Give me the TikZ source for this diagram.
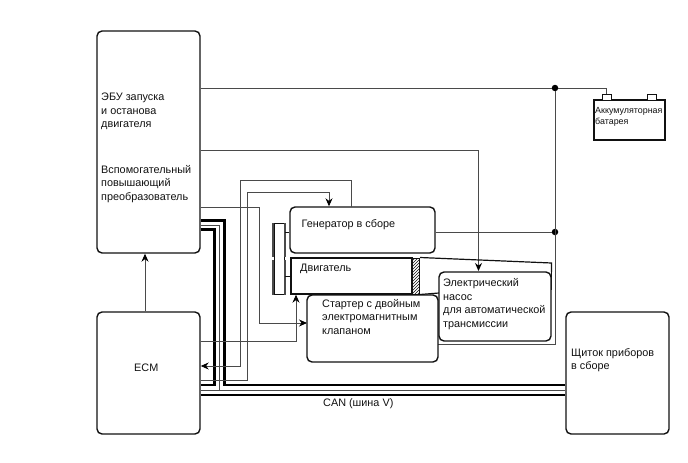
\documentclass[tikz,border=0pt]{standalone}
\usepackage{fontspec}
\setmainfont{Liberation Sans}
\usetikzlibrary{arrows.meta, patterns}
\definecolor{wirecol}{HTML}{4A4A4A}
\definecolor{inkcol}{HTML}{111111}
\tikzset{
    unitbox/.style={draw=inkcol, fill=white, line width=1.4pt, rounded corners=5pt, inner sep=0pt},
    plainbox/.style={draw=inkcol, fill=white, line width=1.4pt, inner sep=0pt},
    caption/.style={anchor=west, align=left, inner sep=0pt, text=inkcol, font=\fontsize{10.85}{13.5}\selectfont},
    wire/.style={draw=wirecol, line width=0.9pt},
    busline/.style={draw=black, line width=2.8pt},
    junction/.style={circle, fill=black, inner sep=0pt, minimum size=6.5pt},
}
\begin{document}
\begin{tikzpicture}[>={Stealth[length=8pt,width=7pt,color=black]}, x=1pt, y=-1pt]
    \useasboundingbox (0, 0) rectangle (688, 463);

    \node[junction] (jtop) at (555, 88) {};
    \node[junction] (jgen) at (555, 232) {};

    \node[plainbox, minimum width=71, minimum height=40] (batt) at (629.5, 120) {};
    \node[plainbox, line width=1pt, minimum width=9, minimum height=6] (plus) at (606.5, 97) {};
    \node[plainbox, line width=1pt, minimum width=9, minimum height=6] (minus) at (652, 97) {};

    \node[unitbox, minimum width=103, minimum height=222] (ebu) at (148.5, 142) {};
    \node[unitbox, minimum width=103, minimum height=122] (ecm) at (148.5, 373) {};
    \node[unitbox, minimum width=103, minimum height=122] (dash) at (617.5, 373) {};

    % CAN bundle
    \draw[busline] (ebu.east |- 0, 220.5) -- (224.5, 220.5) -- (224.5, 385) -- (dash.west |- 0, 385);
    \draw[busline] (ebu.east |- 0, 229.5) -- (214.5, 229.5) -- (214.5, 385) -- (ecm.east |- 0, 385);
    \draw[wire] (ebu.east |- 0, 225) -- (219.5, 225) -- (219.5, 390);
    \draw[wire] (ecm.east |- 0, 390) -- (dash.west |- 0, 390);
    \draw[busline] (ecm.east |- 0, 395) -- (dash.west |- 0, 395);

    % wires that run behind the boxes
    \draw[wire] (ebu.east |- jtop) -- (jtop) -- (jtop -| plus) -- (plus.north);
    \draw[wire] (jtop) -- (555, 344) -- (438, 344);
    \draw[wire, ->] (ecm.north -| 145, 0) -- (ebu.south -| 145, 0);

    \node[unitbox, minimum width=145, minimum height=46] (gen) at (362.5, 230) {};
    \node[plainbox, minimum width=121, minimum height=36] (engine) at (351.5, 276) {};
    \node[plainbox, line width=1pt, pattern=north east lines, pattern color=inkcol, minimum width=7.5, minimum height=36] (hatch) at (415.75, 276) {};

    \draw[wire] (gen.east |- jgen) -- (jgen);
    \draw[wire, ->] (ebu.east |- 0, 150) -- (478.5, 150) -- (478.5, 271);
    \draw[wire, ->] (ecm.east |- 0, 380) -- (247.5, 380) -- (247.5, 192.5) -- (329, 192.5) -- (gen.north -| 329, 0);
    \draw[wire, ->] (351.5, 207) -- (351.5, 180) -- (240.5, 180) -- (240.5, 366) -- (ecm.east |- 0, 366);
    \draw[wire, ->] (ebu.east |- 0, 207.5) -- (259.5, 207.5) -- (259.5, 323) -- (307, 323);
    \draw[wire, ->] (ecm.east |- 0, 341.5) -- (296, 341.5) -- (engine.south -| 296, 0);

    % belt and pulleys
    \draw[draw=inkcol, line width=1pt] (274, 223) rectangle (284, 294.5);
    \draw[draw=wirecol, line width=2.6pt] (273, 223) -- (273, 257) (273, 260) -- (273, 294.5);
    \draw[draw=wirecol, line width=2.6pt] (285, 223) -- (285, 257) (285, 260) -- (285, 294.5);
    \draw[draw=inkcol, line width=1pt] (285, 232) -- (gen.west |- 0, 232);
    \draw[draw=inkcol, line width=1pt] (285, 276) -- (engine.west |- 0, 276);

    % belt to the pump
    \draw[draw=inkcol, line width=1.2pt] (hatch.north east) -- (551.5, 263) -- (551.5, 272);
    \draw[draw=inkcol, line width=1.2pt] (hatch.south east) -- (439, 293);
    \draw[draw=inkcol, line width=1.6pt] (551.5, 272) -- (551.5, 290);

    \node[unitbox, minimum width=131, minimum height=67] (starter) at (372.5, 328.5) {};
    \node[unitbox, minimum width=112, minimum height=69] (pump) at (495, 306.5) {};

    \node[caption] (ebutext) at (101, 111.5) {ЭБУ запуска\\и останова\\двигателя};
    \node[caption] (convtext) at (101, 184) {Вспомогательный\\повышающий\\преобразователь};
    \node[caption] (ecmtext) at (134, 368) {ECM};
    \node[caption] (gentext) at (301.5, 225) {Генератор в сборе};
    \node[caption] (enginetext) at (300, 269) {Двигатель};
    \node[caption] (startertext) at (322, 317) {Стартер с двойным\\электромагнитным\\клапаном};
    \node[caption] (pumptext) at (443, 304) {Электрический\\насос\\для автоматической\\трансмиссии};
    \node[caption] (dashtext) at (571, 360) {Щиток приборов\\в сборе};
    \node[caption] (cantext) at (323, 403.5) {CAN (шина V)};
    \node[caption, font=\fontsize{8.9}{11}\selectfont] (batttext) at (595, 117) {Аккумуляторная\\батарея};
\end{tikzpicture}
\end{document}
